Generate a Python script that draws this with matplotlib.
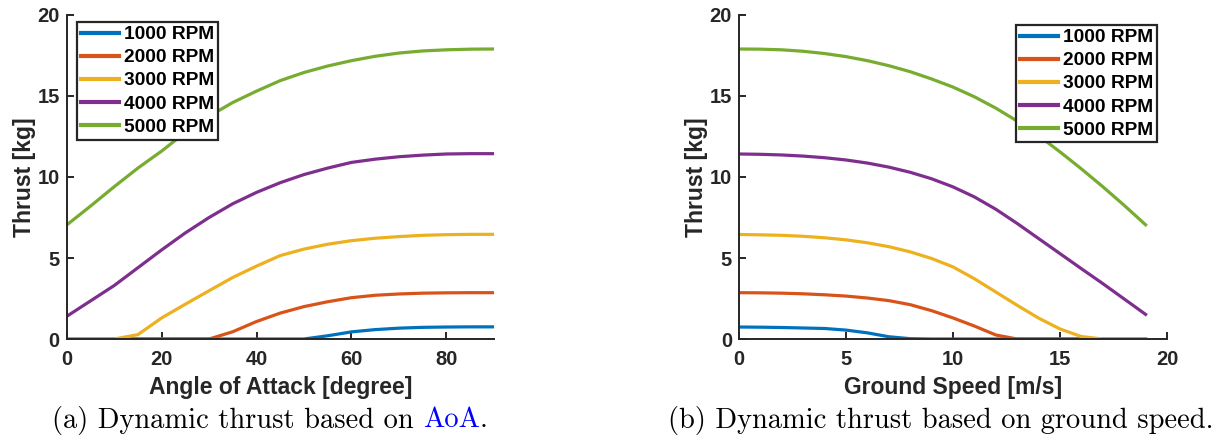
import matplotlib
matplotlib.use("Agg")
import matplotlib.pyplot as plt

# data
labels = ["1000 RPM", "2000 RPM", "3000 RPM", "4000 RPM", "5000 RPM"]
colors = ["#0072BD", "#D95319", "#EDB120", "#7E2F8E", "#77AC30"]

# (a) thrust [kg] vs angle of attack [deg]
aoa = [0, 5, 10, 15, 20, 25, 30, 35, 40, 45, 50, 55, 60, 65, 70, 75, 80, 85, 90]
aoa_1000 = [0, 0, 0, 0, 0, 0, 0, 0, 0, 0, 0, 0.2, 0.44, 0.58, 0.67, 0.72, 0.74, 0.75, 0.75]
aoa_2000 = [0, 0, 0, 0, 0, 0, 0, 0.45, 1.08, 1.6, 2.0, 2.3, 2.55, 2.7, 2.78, 2.83, 2.85, 2.86, 2.86]
aoa_3000 = [0, 0, 0, 0.27, 1.3, 2.15, 2.98, 3.8, 4.5, 5.15, 5.55, 5.85, 6.07, 6.22, 6.32, 6.4, 6.44, 6.46, 6.46]
aoa_4000 = [1.4, 2.35, 3.3, 4.4, 5.5, 6.55, 7.5, 8.35, 9.05, 9.65, 10.15, 10.55, 10.9, 11.1, 11.25, 11.35, 11.42, 11.44, 11.44]
aoa_5000 = [7.04, 8.2, 9.4, 10.55, 11.6, 12.75, 13.75, 14.6, 15.3, 15.95, 16.45, 16.85, 17.18, 17.45, 17.65, 17.78, 17.85, 17.89, 17.9]

# (b) thrust [kg] vs ground speed [m/s]
gs = [0, 1, 2, 3, 4, 5, 6, 7, 8, 9, 10, 11, 12, 13, 14, 15, 16, 17, 18, 19]
gs_1000 = [0.74, 0.73, 0.71, 0.68, 0.65, 0.55, 0.38, 0.14, 0.02, 0, 0, 0, 0, 0, 0, 0, 0, 0, 0, 0]
gs_2000 = [2.86, 2.85, 2.83, 2.79, 2.73, 2.65, 2.53, 2.37, 2.12, 1.75, 1.3, 0.8, 0.25, 0, 0, 0, 0, 0, 0, 0]
gs_3000 = [6.45, 6.43, 6.4, 6.34, 6.25, 6.12, 5.94, 5.7, 5.38, 4.97, 4.45, 3.72, 2.9, 2.08, 1.29, 0.62, 0.15, 0, 0, 0]
gs_4000 = [11.42, 11.4, 11.36, 11.29, 11.19, 11.05, 10.86, 10.61, 10.29, 9.89, 9.39, 8.77, 8.01, 7.13, 6.2, 5.27, 4.34, 3.42, 2.47, 1.52]
gs_5000 = [17.9, 17.89, 17.85, 17.76, 17.62, 17.43, 17.18, 16.87, 16.5, 16.05, 15.55, 14.95, 14.25, 13.45, 12.55, 11.55, 10.5, 9.4, 8.25, 7.05]

plt.rcParams["font.family"] = ["Liberation Sans", "DejaVu Sans"]
plt.rcParams["font.weight"] = "bold"

fig = plt.figure(figsize=(12.27, 4.38), dpi=100)
ax1 = fig.add_axes([0.0544, 0.226, 0.348, 0.7398])
ax2 = fig.add_axes([0.6023, 0.226, 0.3488, 0.7398])

dark = "#262626"

def style(ax, xlim, xticks, xlabel):
    ax.set_xlim(*xlim)
    ax.set_ylim(0, 20)
    ax.set_xticks(xticks)
    ax.set_yticks([0, 5, 10, 15, 20])
    for s in ["top", "right"]:
        ax.spines[s].set_visible(False)
    for s in ["left", "bottom"]:
        ax.spines[s].set_color(dark)
        ax.spines[s].set_linewidth(1.4)
    ax.tick_params(direction="in", length=5, width=1.4, colors=dark,
                   labelsize=14.5, pad=5)
    ax.tick_params(axis="x", pad=8)
    for t in ax.get_xticklabels() + ax.get_yticklabels():
        t.set_fontweight("bold")
    ax.set_xlabel(xlabel, fontsize=16.5, fontweight="bold", color=dark, va="center")
    ax.set_ylabel("Thrust [kg]", fontsize=16.5, fontweight="bold", color=dark, va="center")
    ax.xaxis.set_label_coords(0.5, -0.15)
    ax.yaxis.set_label_coords(-0.1, 0.5)

aoa_series = [aoa_1000, aoa_2000, aoa_3000, aoa_4000, aoa_5000]
gs_series = [gs_1000, gs_2000, gs_3000, gs_4000, gs_5000]

for y, c, lab in zip(aoa_series, colors, labels):
    ax1.plot(aoa, y, color=c, lw=2.3, label=lab)
for y, c, lab in zip(gs_series, colors, labels):
    ax2.plot(gs, y, color=c, lw=2.3, label=lab)

style(ax1, (0, 90), [0, 20, 40, 60, 80], "Angle of Attack [degree]")
style(ax2, (0, 20), [0, 5, 10, 15, 20], "Ground Speed [m/s]")

for ax, loc, anchor in [(ax1, "upper left", (0.0235, 0.978)), (ax2, "upper right", (0.977, 0.969))]:
    leg = ax.legend(loc=loc, bbox_to_anchor=anchor, frameon=True,
                    fancybox=False, handlelength=2.0, handletextpad=0.25,
                    borderpad=0.2, labelspacing=0.3, borderaxespad=0,
                    prop={"weight": "bold", "size": 13.75})
    leg.get_frame().set_edgecolor(dark)
    leg.get_frame().set_linewidth(1.6)
    leg.get_frame().set_alpha(1)
    for line in leg.get_lines():
        line.set_linewidth(3)

# captions (serif, like the LaTeX subcaption)
cap = dict(fontsize=20.5, family="cmr10", va="center")
renderer = fig.canvas.get_renderer()
parts = [("(a) Dynamic thrust based on ", "black"), ("AoA", "#0000ff"), (".", "black")]
texts = [fig.text(0, 0.041, p, ha="left", color=c, **cap) for p, c in parts]
widths = [t.get_window_extent(renderer).width for t in texts]
x = 270 - sum(widths) / 2
for t, w in zip(texts, widths):
    t.set_x(x / 1227)
    x += w
fig.text(941 / 1227, 0.041, "(b) Dynamic thrust based on ground speed.", ha="center", **cap)

fig.savefig("out.png", dpi=100)
